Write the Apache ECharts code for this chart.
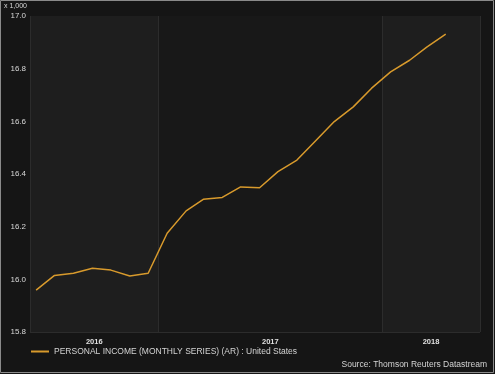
<!DOCTYPE html>
<html>
<head>
<meta charset="utf-8">
<script src="https://cdn.jsdelivr.net/npm/echarts@6/dist/echarts.min.js"></script>
<style>
html,body{margin:0;padding:0;background:#151515;}
#c{width:495px;height:374px;}
</style>
</head>
<body>
<div id="c"></div>
<script>
// Monthly observations (dated mid-month), values in thousands
var months = ['2016-06-15','2016-07-15','2016-08-15','2016-09-15','2016-10-15','2016-11-15','2016-12-15',
  '2017-01-15','2017-02-15','2017-03-15','2017-04-15','2017-05-15','2017-06-15','2017-07-15','2017-08-15',
  '2017-09-15','2017-10-15','2017-11-15','2017-12-15','2018-01-15','2018-02-15','2018-03-15','2018-04-15'];
var values = [15.959, 16.015, 16.023, 16.042, 16.035, 16.013, 16.023,
  16.175, 16.26, 16.304, 16.311, 16.351, 16.348, 16.409, 16.453,
  16.527, 16.599, 16.655, 16.726, 16.788, 16.832, 16.882, 16.931];
var seriesName = 'PERSONAL INCOME (MONTHLY SERIES) (AR) : United States';
var yTicks = [15.8, 16.0, 16.2, 16.4, 16.6, 16.8, 17.0];
var yearLabels = ['2016', '2017', '2018'];
var axisStart = '2016-06-05';
var axisEnd = '2018-06-10';
var yearStarts = ['2017-01-01', '2018-01-01'];

var t = function (s) { return new Date(s + 'T00:00:00Z').getTime(); };
var tMin = t(axisStart), tMax = t(axisEnd);
var b1 = t(yearStarts[0]), b2 = t(yearStarts[1]);
var labelPos = [(tMin + b1) / 2, (b1 + b2) / 2, (b2 + tMax) / 2];
var FONT = '"Liberation Sans", Arial, sans-serif';

var chart = echarts.init(document.getElementById('c'), null, {renderer: 'canvas'});
chart.setOption({
  backgroundColor: '#151515',
  animation: false,
  textStyle: {fontFamily: FONT},
  grid: {left: 30, right: 15, top: 16, bottom: 42, containLabel: false},
  legend: {
    left: 31, top: 347, padding: 0, itemWidth: 18, itemHeight: 2, icon: 'rect', itemGap: 6,
    textStyle: {color: '#d4d4d4', fontSize: 8.5, fontFamily: FONT},
    data: [seriesName]
  },
  xAxis: {
    type: 'value', min: tMin, max: tMax,
    axisLine: {show: false}, axisTick: {show: false}, splitLine: {show: false},
    axisLabel: {
      customValues: labelPos, color: '#e0e0e0', fontSize: 7.5, fontWeight: 'bold', margin: 6, fontFamily: FONT,
      formatter: function (v) {
        var best = 0, bd = Infinity;
        for (var i = 0; i < labelPos.length; i++) {
          var d = Math.abs(labelPos[i] - v);
          if (d < bd) { bd = d; best = i; }
        }
        return yearLabels[best];
      }
    }
  },
  yAxis: {
    type: 'value', min: yTicks[0], max: yTicks[yTicks.length - 1], interval: 0.2,
    axisLine: {show: false}, axisTick: {show: false},
    splitLine: {lineStyle: {color: '#2c2c2c', width: 1}},
    axisLabel: {color: '#d8d8d8', fontSize: 8, margin: 4, fontFamily: FONT, formatter: function (v) { return v.toFixed(1); }}
  },
  graphic: [
    {type: 'rect', shape: {x: 0.5, y: 0.5, width: 493, height: 372}, style: {fill: null, stroke: '#8a8a8a', lineWidth: 1}, z: 100},
    {type: 'text', left: 4, top: 3, style: {text: 'x 1,000', fill: '#d8d8d8', fontSize: 7, fontFamily: FONT}},
    {type: 'text', right: 8, top: 360, style: {text: 'Source: Thomson Reuters Datastream', fill: '#d4d4d4', fontSize: 8.5, fontFamily: FONT}}
  ],
  series: [{
    name: seriesName,
    type: 'line',
    data: months.map(function (m, i) { return [t(m), values[i]]; }),
    symbol: 'none',
    lineStyle: {color: '#d89a2c', width: 1.5},
    itemStyle: {color: '#d89a2c'},
    z: 5,
    markArea: {
      silent: true,
      data: [
        [{xAxis: tMin, itemStyle: {color: '#1e1e1e'}}, {xAxis: b1}],
        [{xAxis: b1, itemStyle: {color: '#181818'}}, {xAxis: b2}],
        [{xAxis: b2, itemStyle: {color: '#1e1e1e'}}, {xAxis: tMax}]
      ]
    },
    markLine: {
      silent: true, symbol: 'none', label: {show: false},
      lineStyle: {color: '#2c2c2c', type: 'solid', width: 1},
      data: [{xAxis: tMin}, {xAxis: b1}, {xAxis: b2}, {xAxis: tMax}]
    }
  }]
});
</script>
</body>
</html>
